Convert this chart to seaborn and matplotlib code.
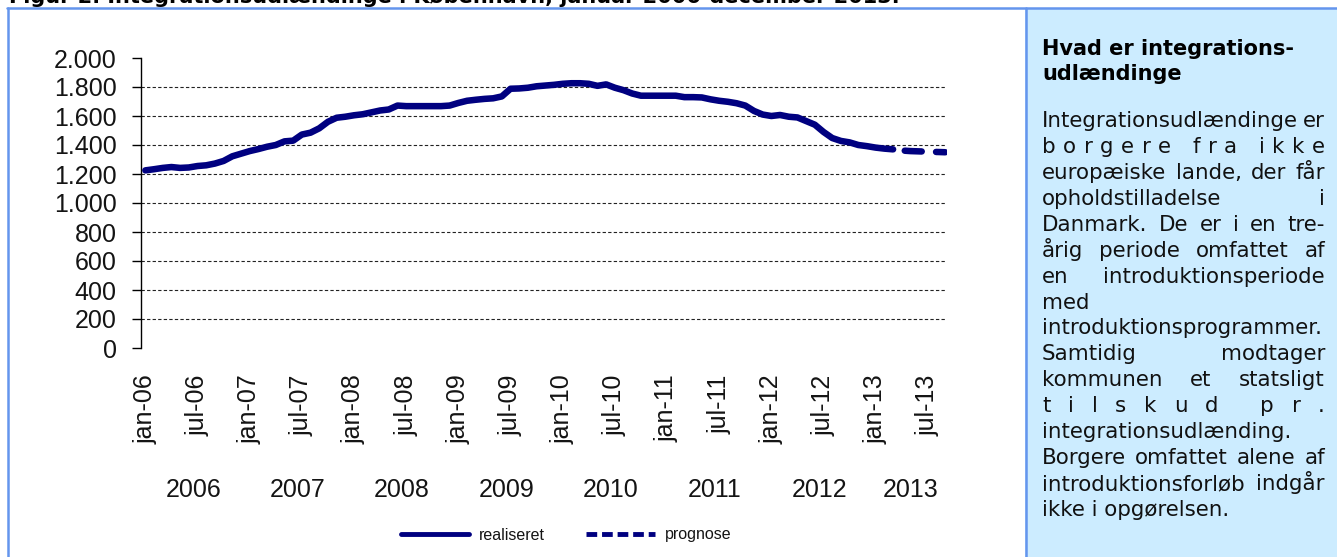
import numpy as np
import pandas as pd
import matplotlib
matplotlib.use("Agg")
import matplotlib.pyplot as plt
import seaborn as sns
from matplotlib.lines import Line2D
from matplotlib.patches import Rectangle
from matplotlib.transforms import blended_transform_factory

W, H = 1337, 557

# Integrationsudlændinge, månedlig, jan-06 .. mar-13 (realiseret)
realiseret = [1225, 1233, 1242, 1248, 1242, 1245, 1255, 1260, 1272, 1290, 1322, 1340,
              1358, 1372, 1388, 1400, 1425, 1430, 1472, 1485, 1515, 1560, 1588, 1595,
              1605, 1612, 1625, 1638, 1645, 1672, 1668, 1668, 1668, 1668, 1668, 1672,
              1690, 1705, 1712, 1718, 1722, 1735, 1788, 1790, 1795, 1805, 1810, 1815,
              1822, 1826, 1826, 1822, 1808, 1818, 1795, 1778, 1755, 1740, 1740, 1740,
              1740, 1740, 1730, 1730, 1728, 1715, 1705, 1698, 1688, 1672, 1635, 1610,
              1600, 1607, 1595, 1590, 1565, 1540, 1490, 1448, 1428, 1418, 1400, 1392,
              1382, 1375, 1370]
# prognose mar-13 .. sep-13
prognose = [1370, 1362, 1358, 1356, 1354, 1352, 1350]

tick_labels = ["jan-06", "jul-06", "jan-07", "jul-07", "jan-08", "jul-08", "jan-09", "jul-09",
               "jan-10", "jul-10", "jan-11", "jul-11", "jan-12", "jul-12", "jan-13", "jul-13"]
years = ["2006", "2007", "2008", "2009", "2010", "2011", "2012", "2013"]

titel = "Figur 2. Integrationsudlændinge i København, januar 2006-december 2013."
overskrift = ["Hvad er integrations-", "udlændinge"]
brodtekst = [
    ("Integrationsudlændinge er", "j"),
    ("borgere fra ikke", "c"),
    ("europæiske lande, der får", "j"),
    ("opholdstilladelse i", "j"),
    ("Danmark. De er i en tre-", "j"),
    ("årig periode omfattet af", "j"),
    ("en introduktionsperiode", "j"),
    ("med", "l"),
    ("introduktionsprogrammer.", "l"),
    ("Samtidig modtager", "j"),
    ("kommunen et statsligt", "j"),
    ("tilskud pr.", "c"),
    ("integrationsudlænding.", "l"),
    ("Borgere omfattet alene af", "j"),
    ("introduktionsforløb indgår", "j"),
    ("ikke i opgørelsen.", "l"),
]

n_real = len(realiseret)
df_real = pd.DataFrame({"maaned": np.arange(n_real), "antal": realiseret})
df_prog = pd.DataFrame({"maaned": np.arange(n_real - 1, n_real - 1 + len(prognose)), "antal": prognose})
n_tot = n_real - 1 + len(prognose)

sns.set_style("white")
plt.rcParams['font.family'] = ['Liberation Sans', 'DejaVu Sans']

navy = "#000080"
blaa = "#6495ED"
sort = "#141414"

fig = plt.figure(figsize=(W / 100, H / 100), dpi=100)
fx = lambda x: x / W
fy = lambda y: 1 - y / H

ax = fig.add_axes([fx(141), fy(348), (947 - 141) / W, (348 - 58) / H])

for v in range(200, 2000, 200):
    ax.axhline(v, color="#222222", lw=0.8, ls=(0, (3, 2)), zorder=1)

sns.lineplot(data=df_real, x="maaned", y="antal", ax=ax, color=navy, lw=4.7,
             solid_capstyle="round", zorder=3)
sns.lineplot(data=df_prog, x="maaned", y="antal", ax=ax, color=navy, lw=4.7, zorder=3)
ax.lines[-1].set_linestyle((3.0, (2.6, 2.2)))
ax.lines[-1].set_dash_capstyle("round")

ax.set_xlim(-0.5, n_tot - 0.8)
ax.set_ylim(0, 2000)
ax.set_yticks(range(0, 2001, 200))
ax.set_yticklabels([f"{v:,}".replace(",", ".") for v in range(0, 2001, 200)], fontsize=18)
ax.set_xticks(range(0, 6 * len(tick_labels), 6))
ax.set_xticklabels(tick_labels, rotation=90, fontsize=18)
ax.tick_params(axis="x", length=0, pad=19, labelcolor=sort)
ax.tick_params(axis="y", direction="out", length=6.5, width=1, pad=11, color="black",
               left=True, labelcolor=sort)
ax.set_xlabel("")
ax.set_ylabel("")
for s in ["top", "right", "bottom"]:
    ax.spines[s].set_visible(False)
ax.spines["left"].set_color("black")
ax.spines["left"].set_linewidth(1)

# years under month labels
trans = blended_transform_factory(ax.transData, fig.transFigure)
for k, yr in enumerate(years):
    months = np.arange(12 * k, min(12 * k + 12, n_tot))
    ax.text(months.mean(), fy(490), yr, transform=trans, ha="center", va="center",
            fontsize=18, color=sort)

handles = [Line2D([], [], color=navy, lw=3.5),
           Line2D([], [], color=navy, lw=3.5, ls=(0, (2.2, 1.0)))]
fig.legend(handles, ["realiseret", "prognose"], loc="center", bbox_to_anchor=(fx(566), fy(535)),
           ncol=2, frameon=False, fontsize=11.5, handlelength=4.3, handletextpad=0.6,
           columnspacing=2.6, labelcolor=sort)

# frame and side panel
fig.add_artist(Rectangle((fx(1025), 0), 1 - fx(1025), fy(8), transform=fig.transFigure,
                         fc="#CCECFF", ec="none", zorder=0))
fig.add_artist(Line2D([fx(7), 1], [fy(8), fy(8)], color=blaa, lw=1.8))
fig.add_artist(Line2D([fx(7.5), fx(7.5)], [0, fy(8)], color=blaa, lw=1.8))
fig.add_artist(Line2D([fx(1025.5), fx(1025.5)], [0, fy(8)], color=blaa, lw=1.8))

fig.text(fx(900), fy(3), titel, ha="right", va="baseline", fontsize=15, weight="bold",
         family="DejaVu Sans", color="black")

for i, linje in enumerate(overskrift):
    fig.text(fx(1042), fy(55 + 25 * i), linje, ha="left", va="baseline", fontsize=15,
             weight="bold", family="DejaVu Sans", color="black")

renderer = fig.canvas.get_renderer()
kw = dict(fontsize=15.4, family="DejaVu Sans", color="#111111", ha="left", va="baseline")


def bredde(s):
    t = fig.text(0, 0, s, **kw)
    w = t.get_window_extent(renderer).width
    t.remove()
    return w


mellemrum = bredde("a a") - bredde("aa")
x0, x1 = 1042, 1325
for i, (linje, mode) in enumerate(brodtekst):
    yb = 127.3 + 25.9 * i
    if mode == "l":
        fig.text(fx(x0), fy(yb), linje, **kw)
    elif mode == "j":
        ord_ = linje.split(" ")
        wl = [bredde(o) for o in ord_]
        gap = (x1 - x0 - sum(wl)) / max(len(ord_) - 1, 1)
        x = x0
        for o, w in zip(ord_, wl):
            fig.text(fx(x), fy(yb), o, **kw)
            x += w + gap
    else:
        tegn = list(linje)
        wl = [mellemrum if c == " " else bredde(c) for c in tegn]
        extra = (x1 - x0 - sum(wl)) / (len(tegn) - 1)
        x = x0
        for c, w in zip(tegn, wl):
            if c != " ":
                fig.text(fx(x), fy(yb), c, **kw)
            x += w + extra

fig.savefig("out.png", dpi=100)
